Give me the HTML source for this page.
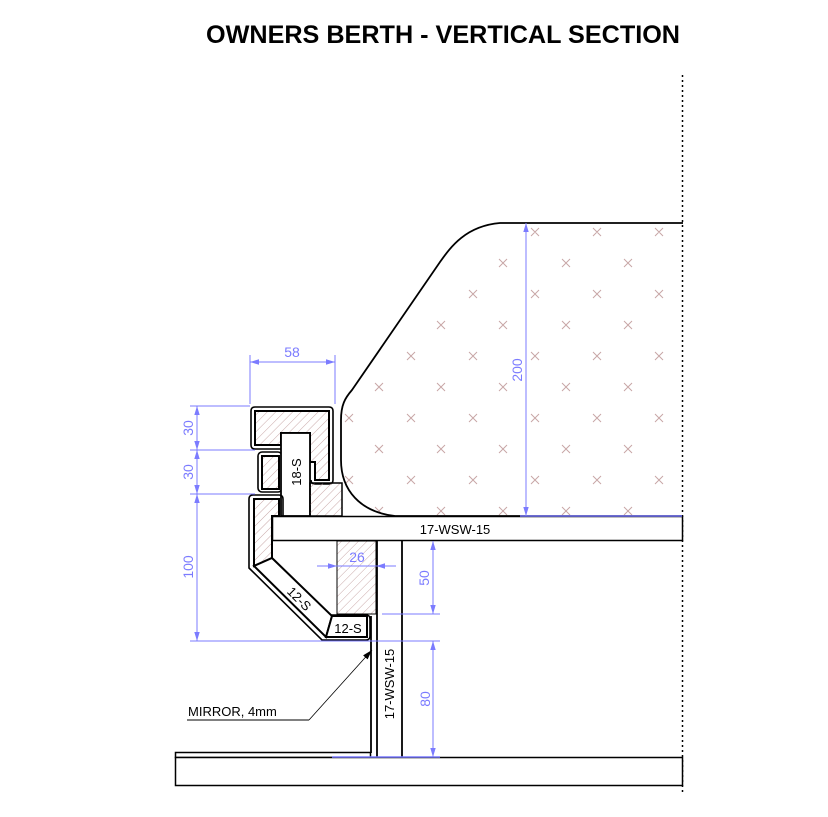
<!DOCTYPE html>
<html><head><meta charset="utf-8"><style>
html,body{margin:0;padding:0;background:#fff;}
svg{display:block;}
text{font-family:"Liberation Sans",sans-serif;}
</style></head><body>
<svg width="828" height="817" viewBox="0 0 828 817" xmlns="http://www.w3.org/2000/svg">
<defs>
<pattern id="h" width="6" height="6" patternUnits="userSpaceOnUse" patternTransform="rotate(45)">
<line x1="0" y1="0" x2="0" y2="6" stroke="#c9a9a9" stroke-width="1"/>
</pattern>
<clipPath id="cush"><path d="M500,223 L683,223 L683,516 L395,516 C360,512 341,490 341,460 L341,420 C341,405 345,398 352,390 L440,262 C450,248 465,226 500,223 Z"/></clipPath>
<marker id="ab" viewBox="0 0 10 10" refX="10" refY="5" markerWidth="9" markerHeight="9" orient="auto-start-reverse" markerUnits="userSpaceOnUse"><path d="M0,2 L10,5 L0,8 Z" fill="#7b7bff"/></marker>
<marker id="ak" viewBox="0 0 10 10" refX="10" refY="5" markerWidth="10" markerHeight="10" orient="auto" markerUnits="userSpaceOnUse"><path d="M0,2 L10,5 L0,8 Z" fill="#000"/></marker>
</defs>

<text x="206" y="43" font-size="25" font-weight="bold" textLength="474" lengthAdjust="spacingAndGlyphs">OWNERS BERTH - VERTICAL SECTION</text>

<line x1="682.5" y1="75" x2="682.5" y2="792" stroke="#000" stroke-width="1.5" stroke-dasharray="2,3"/>

<g clip-path="url(#cush)" stroke="#c8a6a6" stroke-width="1" fill="none">
<path d="
M531,228l8,8m0,-8l-8,8 M593,228l8,8m0,-8l-8,8 M655,228l8,8m0,-8l-8,8
M499,259l8,8m0,-8l-8,8 M562,259l8,8m0,-8l-8,8 M624,259l8,8m0,-8l-8,8
M469,290l8,8m0,-8l-8,8 M531,290l8,8m0,-8l-8,8 M593,290l8,8m0,-8l-8,8 M655,290l8,8m0,-8l-8,8
M437,321l8,8m0,-8l-8,8 M499,321l8,8m0,-8l-8,8 M562,321l8,8m0,-8l-8,8 M624,321l8,8m0,-8l-8,8
M407,352l8,8m0,-8l-8,8 M469,352l8,8m0,-8l-8,8 M531,352l8,8m0,-8l-8,8 M593,352l8,8m0,-8l-8,8 M655,352l8,8m0,-8l-8,8
M375,383l8,8m0,-8l-8,8 M437,383l8,8m0,-8l-8,8 M499,383l8,8m0,-8l-8,8 M562,383l8,8m0,-8l-8,8 M624,383l8,8m0,-8l-8,8
M345,414l8,8m0,-8l-8,8 M407,414l8,8m0,-8l-8,8 M469,414l8,8m0,-8l-8,8 M531,414l8,8m0,-8l-8,8 M593,414l8,8m0,-8l-8,8 M655,414l8,8m0,-8l-8,8
M375,445l8,8m0,-8l-8,8 M437,445l8,8m0,-8l-8,8 M499,445l8,8m0,-8l-8,8 M562,445l8,8m0,-8l-8,8 M624,445l8,8m0,-8l-8,8
M345,476l8,8m0,-8l-8,8 M407,476l8,8m0,-8l-8,8 M469,476l8,8m0,-8l-8,8 M531,476l8,8m0,-8l-8,8 M593,476l8,8m0,-8l-8,8 M655,476l8,8m0,-8l-8,8
M375,507l8,8m0,-8l-8,8 M437,507l8,8m0,-8l-8,8 M499,507l8,8m0,-8l-8,8 M562,507l8,8m0,-8l-8,8 M624,507l8,8m0,-8l-8,8
"/>
</g>
<path d="M683,223 L500,223 C465,226 450,248 440,262 L352,390 C345,398 341,405 341,420 L341,460 C341,490 360,512 395,516 L683,516" fill="none" stroke="#000" stroke-width="1.8"/>

<rect x="272.5" y="516.5" width="410" height="24" fill="#fff" stroke="#000" stroke-width="1.5"/>
<text x="455" y="534" font-size="13" text-anchor="middle">17-WSW-15</text>

<path d="M255,407 L329,407 Q333,407 333,411 L333,480 Q333,484 329,484 L315,484 Q311,484 311,480" fill="none" stroke="#000" stroke-width="1.6"/>
<path d="M251,411 Q251,407 255,407 M251,411 L251,445 Q251,449 255,449 L281,449" fill="none" stroke="#000" stroke-width="1.6"/>
<path d="M255,411 L329,411 L329,480 L315,480 L315,462 L310,462 L310,433 L281,433 L281,445 L255,445 Z" fill="url(#h)" stroke="#000" stroke-width="2"/>
<rect x="258" y="452" width="24" height="40" rx="4" fill="none" stroke="#000" stroke-width="1.6"/>
<rect x="262" y="456" width="17" height="33" fill="url(#h)" stroke="#000" stroke-width="2"/>
<rect x="281" y="433" width="29" height="83" fill="#fff" stroke="#000" stroke-width="1.8"/>
<text transform="translate(301,472) rotate(-90)" font-size="13" text-anchor="middle">18-S</text>
<rect x="310" y="483" width="32" height="33" fill="url(#h)" stroke="#000" stroke-width="1.5"/>

<path d="M283,516 L283,499 Q283,495 279,495 L253,495 Q249,495 249,499 L249,568 L322,640 L366,640 Q370,640 370,636 L370,619 Q370,615 366,615 L331,615" fill="none" stroke="#000" stroke-width="1.6"/>
<path d="M254,499 L279,499 L279,516 L272,516 L272,558 L254,566 Z" fill="url(#h)" stroke="#000" stroke-width="2"/>
<path d="M254,566 L272,558 L332,616 L326,637 Z" fill="#fff" stroke="#000" stroke-width="2"/>
<text transform="translate(296,602) rotate(45)" font-size="13" text-anchor="middle">12-S</text>
<path d="M332,616 L367,616 L367,637 L326,637 Z" fill="#fff" stroke="#000" stroke-width="2"/>
<text x="348" y="633" font-size="13" text-anchor="middle">12-S</text>

<rect x="337" y="541" width="39" height="73" fill="url(#h)" stroke="#000" stroke-width="1"/>

<line x1="377" y1="541" x2="377" y2="757" stroke="#000" stroke-width="1.8"/>
<line x1="402" y1="541" x2="402" y2="757" stroke="#000" stroke-width="1.8"/>
<line x1="371" y1="616" x2="371" y2="753" stroke="#000" stroke-width="1.8"/>
<text transform="translate(394,684) rotate(-90)" font-size="13" text-anchor="middle">17-WSW-15</text>

<rect x="175.5" y="752.5" width="195" height="5" fill="#fff" stroke="#000" stroke-width="1.5"/>
<rect x="175.5" y="757.5" width="507" height="28" fill="#fff" stroke="#000" stroke-width="1.5"/>

<line x1="187" y1="720" x2="309" y2="720" stroke="#000" stroke-width="1"/>
<line x1="309" y1="720" x2="372" y2="650" stroke="#000" stroke-width="0.8" marker-end="url(#ak)"/>
<text x="188" y="716" font-size="13">MIRROR, 4mm</text>

<g stroke="#7b7bff" stroke-width="1" fill="none">
<line x1="250" y1="355" x2="250" y2="404"/>
<line x1="335" y1="355" x2="335" y2="404"/>
<line x1="250" y1="362" x2="335" y2="362" marker-start="url(#ab)" marker-end="url(#ab)"/>
<line x1="190" y1="406" x2="250" y2="406"/>
<line x1="190" y1="450" x2="255" y2="450"/>
<line x1="190" y1="494" x2="255" y2="494"/>
<line x1="190" y1="641" x2="440" y2="641"/>
<line x1="197" y1="406" x2="197" y2="450" marker-start="url(#ab)" marker-end="url(#ab)"/>
<line x1="197" y1="450" x2="197" y2="494" marker-start="url(#ab)" marker-end="url(#ab)"/>
<line x1="197" y1="494" x2="197" y2="641" marker-start="url(#ab)" marker-end="url(#ab)"/>
<line x1="526" y1="223" x2="526" y2="516" marker-start="url(#ab)" marker-end="url(#ab)"/>
<line x1="520" y1="516" x2="682" y2="516" stroke-width="1.5"/>
<line x1="317" y1="566" x2="337" y2="566" marker-end="url(#ab)"/>
<line x1="396" y1="566" x2="376" y2="566" marker-end="url(#ab)"/>
<line x1="337" y1="566" x2="376" y2="566"/>
<line x1="382" y1="614" x2="440" y2="614"/>
<line x1="433" y1="541" x2="433" y2="614" marker-start="url(#ab)" marker-end="url(#ab)"/>
<line x1="433" y1="641" x2="433" y2="757" marker-start="url(#ab)" marker-end="url(#ab)"/>
<line x1="332" y1="757" x2="440" y2="757" stroke-width="1.5"/>
</g>
<g fill="#7b7bff" font-size="14">
<text x="292" y="357" text-anchor="middle">58</text>
<text x="357" y="562" text-anchor="middle">26</text>
<text transform="translate(193,428) rotate(-90)" text-anchor="middle">30</text>
<text transform="translate(193,472) rotate(-90)" text-anchor="middle">30</text>
<text transform="translate(193,567) rotate(-90)" text-anchor="middle">100</text>
<text transform="translate(522,370) rotate(-90)" text-anchor="middle">200</text>
<text transform="translate(429,578) rotate(-90)" text-anchor="middle">50</text>
<text transform="translate(430,699) rotate(-90)" text-anchor="middle">80</text>
</g>
</svg>
</body></html>
